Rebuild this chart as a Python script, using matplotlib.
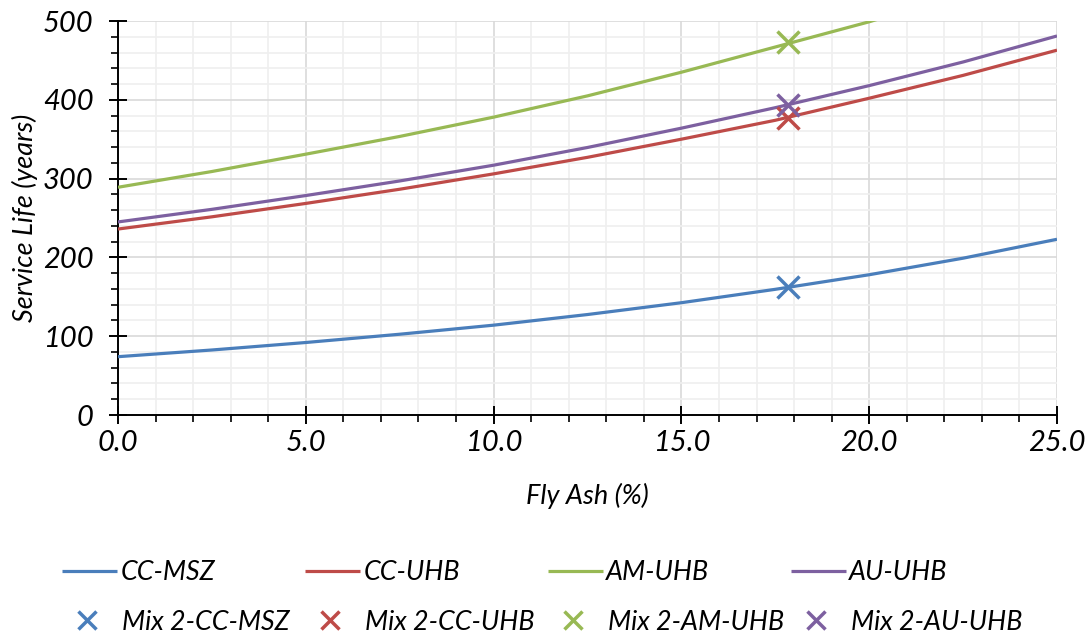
import matplotlib
matplotlib.use("Agg")
import matplotlib.pyplot as plt
from matplotlib.ticker import MultipleLocator

plt.rcParams['font.family'] = ['Lato', 'DejaVu Sans']

# ---- data ----
fly_ash = [0.0, 2.5, 5.0, 7.5, 10.0, 12.5, 15.0, 17.5, 20.0, 22.5, 25.0]
cc_msz = [74, 82.5, 92, 102.5, 114, 127.5, 142.5, 159.5, 178, 199, 223]
cc_uhb = [236, 251.5, 268.5, 286.5, 306, 327, 350, 374, 402, 431, 463]
am_uhb = [289, 309, 331, 353.5, 378, 405, 435, 467, 499, 535, 572]
au_uhb = [245, 261, 278.5, 297, 317, 339.5, 364, 390, 418, 448, 481]

mix2_x = 17.85
mix2_cc_msz = 162.5
mix2_cc_uhb = 377
mix2_am_uhb = 473
mix2_au_uhb = 394

series_names = ["CC-MSZ", "CC-UHB", "AM-UHB", "AU-UHB"]
mix_names = ["Mix 2-CC-MSZ", "Mix 2-CC-UHB", "Mix 2-AM-UHB", "Mix 2-AU-UHB"]
colors = ["#4a7ebb", "#be4b48", "#98b954", "#7d60a0"]

x_ticks = [0.0, 5.0, 10.0, 15.0, 20.0, 25.0]
x_tick_labels = ["0.0", "5.0", "10.0", "15.0", "20.0", "25.0"]
y_ticks = [0, 100, 200, 300, 400, 500]

W, H = 1088, 640
fig = plt.figure(figsize=(W / 100, H / 100), dpi=100)
ax = fig.add_axes([118 / W, 1 - 415 / H, (1057 - 118) / W, (415 - 21) / H])

lines = []
for vals, c in zip([cc_msz, cc_uhb, am_uhb, au_uhb], colors):
    ln, = ax.plot(fly_ash, vals, color=c, lw=2.3, solid_capstyle='butt', zorder=3)
    lines.append(ln)

marks = []
for v, c in zip([mix2_cc_msz, mix2_cc_uhb, mix2_am_uhb, mix2_au_uhb], colors):
    m, = ax.plot([mix2_x], [v], linestyle='none', marker='x', color=c,
                 markersize=15.5, markeredgewidth=2.5, zorder=4, clip_on=False)
    marks.append(m)

ax.set_xlim(0, 25)
ax.set_ylim(0, 500)
ax.set_xticks(x_ticks)
ax.set_xticklabels(x_tick_labels)
ax.set_yticks(y_ticks)
ax.xaxis.set_minor_locator(MultipleLocator(1))
ax.yaxis.set_minor_locator(MultipleLocator(20))

ax.grid(which='major', color='#d9d9d9', lw=1.2, zorder=0)
ax.grid(which='minor', color='#efefef', lw=1.2, zorder=0)
ax.set_axisbelow(True)

for s in ['top', 'right']:
    ax.spines[s].set_visible(False)
for s in ['left', 'bottom']:
    ax.spines[s].set_linewidth(1.4)
    ax.spines[s].set_color('black')

ax.tick_params(which='major', direction='inout', length=13, width=1.4, color='black')
ax.tick_params(which='minor', direction='out', length=5, width=1.2, color='black')
ax.tick_params(axis='y', which='major', labelsize=21, pad=11)
ax.tick_params(axis='x', which='major', labelsize=21, pad=4)
for lab in ax.get_xticklabels() + ax.get_yticklabels():
    lab.set_fontstyle('italic')

ax.set_xlabel("Fly Ash (%)", fontsize=19.5, fontstyle='italic', labelpad=20)
ax.set_ylabel("Service Life (years)", fontsize=19.5, fontstyle='italic', labelpad=4)

# legend entries placed individually
col_x = [62, 305, 548, 791]
for i in range(4):
    fig.legend(handles=[lines[i]], labels=[series_names[i]], loc='center left',
               bbox_to_anchor=(col_x[i] / W, 1 - 573 / H), frameon=False,
               borderpad=0, borderaxespad=0, handlelength=2.04, handletextpad=0.12,
               prop={'size': 19.4, 'style': 'italic'})
    fig.legend(handles=[marks[i]], labels=[mix_names[i]], loc='center left',
               bbox_to_anchor=(col_x[i] / W, 1 - 622 / H), frameon=False,
               borderpad=0, borderaxespad=0, handlelength=1.86, handletextpad=0.35,
               prop={'size': 19.4, 'style': 'italic'}, markerscale=0.8)

fig.savefig("out.png", dpi=100)
